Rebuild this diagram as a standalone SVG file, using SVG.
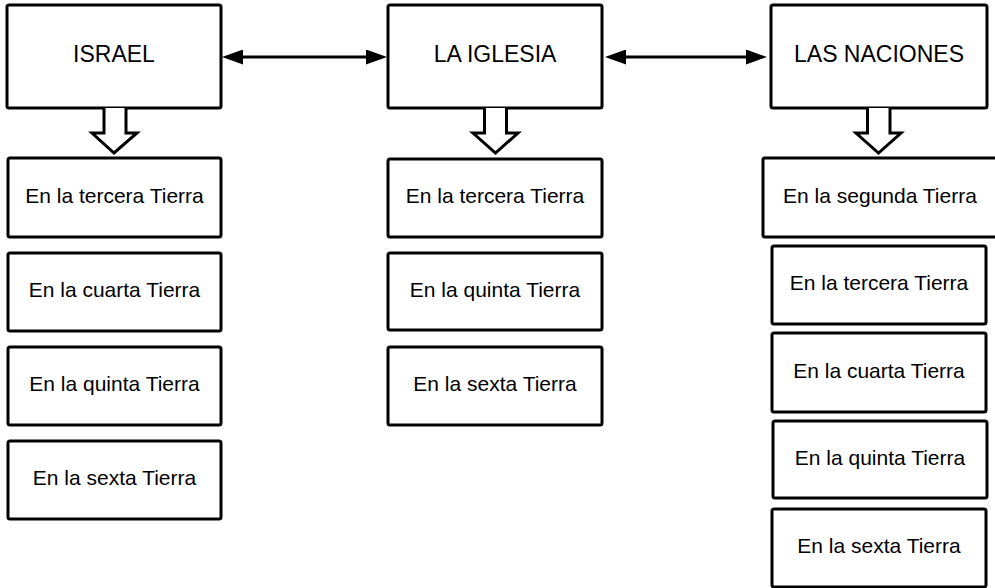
<svg xmlns="http://www.w3.org/2000/svg" width="995" height="588" viewBox="0 0 995 588">
<style>
.box{fill:#fff;stroke:#000;stroke-width:3}
.hd{font-family:"Liberation Sans",Arial,sans-serif;font-size:23px;fill:#000;text-anchor:middle}
.it{font-family:"Liberation Sans",Arial,sans-serif;font-size:21px;fill:#000;text-anchor:middle}
.link{stroke:#000;stroke-width:3;fill:none}
.hollow{fill:#fff;stroke:#000;stroke-width:3;stroke-linejoin:miter}
</style>
<defs>
<marker id="ah" viewBox="0 0 21 15" refX="16" refY="7.5" markerWidth="21" markerHeight="15" markerUnits="userSpaceOnUse" orient="auto-start-reverse">
<path d="M0,0 L21,7.5 L0,15 z" fill="#000"/>
</marker>
</defs>
<rect width="995" height="588" fill="#fff"/>

<g id="israel">
<rect class="box" x="7" y="5" width="214" height="103" rx="2"/>
<text class="hd" x="114" y="62">ISRAEL</text>
</g>
<g id="iglesia">
<rect class="box" x="388" y="5" width="214" height="103" rx="2"/>
<text class="hd" x="495" y="62">LA IGLESIA</text>
</g>
<g id="naciones">
<rect class="box" x="771" y="5" width="216" height="103" rx="2"/>
<text class="hd" x="879" y="62">LAS NACIONES</text>
</g>

<g id="israel-tercera">
<rect class="box" x="8" y="158" width="213" height="79" rx="2"/>
<text class="it" x="114.5" y="203">En la tercera Tierra</text>
</g>
<g id="israel-cuarta">
<rect class="box" x="8" y="253" width="213" height="78" rx="2"/>
<text class="it" x="114.5" y="297">En la cuarta Tierra</text>
</g>
<g id="israel-quinta">
<rect class="box" x="8" y="347" width="213" height="78" rx="2"/>
<text class="it" x="114.5" y="391">En la quinta Tierra</text>
</g>
<g id="israel-sexta">
<rect class="box" x="8" y="441" width="213" height="78" rx="2"/>
<text class="it" x="114.5" y="485">En la sexta Tierra</text>
</g>

<g id="iglesia-tercera">
<rect class="box" x="388" y="159" width="214" height="78" rx="2"/>
<text class="it" x="495" y="203">En la tercera Tierra</text>
</g>
<g id="iglesia-quinta">
<rect class="box" x="388" y="253" width="214" height="77" rx="2"/>
<text class="it" x="495" y="297">En la quinta Tierra</text>
</g>
<g id="iglesia-sexta">
<rect class="box" x="388" y="347" width="214" height="78" rx="2"/>
<text class="it" x="495" y="391">En la sexta Tierra</text>
</g>

<g id="naciones-segunda">
<rect class="box" x="763" y="158" width="236" height="79" rx="2"/>
<text class="it" x="880" y="203">En la segunda Tierra</text>
</g>
<g id="naciones-tercera">
<rect class="box" x="772" y="246" width="214" height="78" rx="2"/>
<text class="it" x="879" y="290">En la tercera Tierra</text>
</g>
<g id="naciones-cuarta">
<rect class="box" x="772" y="333" width="214" height="79" rx="2"/>
<text class="it" x="879" y="378">En la cuarta Tierra</text>
</g>
<g id="naciones-quinta">
<rect class="box" x="773" y="421" width="214" height="77" rx="2"/>
<text class="it" x="880" y="465">En la quinta Tierra</text>
</g>
<g id="naciones-sexta">
<rect class="box" x="772" y="509" width="214" height="78" rx="2"/>
<text class="it" x="879" y="553">En la sexta Tierra</text>
</g>

<g id="connectors">
<line class="link" x1="227" y1="57" x2="382" y2="57" marker-start="url(#ah)" marker-end="url(#ah)"/>
<line class="link" x1="610" y1="57" x2="762" y2="57" marker-start="url(#ah)" marker-end="url(#ah)"/>
<path class="hollow" d="M104,108 L104,133 L92,133 L114,153 L137,133 L126,133 L126,108"/>
<path class="hollow" d="M484.5,108 L484.5,133 L473,133 L495.5,153 L518,133 L506.5,133 L506.5,108"/>
<path class="hollow" d="M867.5,108 L867.5,133 L856,133 L878.5,153 L901,133 L890,133 L890,108"/>
</g>
</svg>
